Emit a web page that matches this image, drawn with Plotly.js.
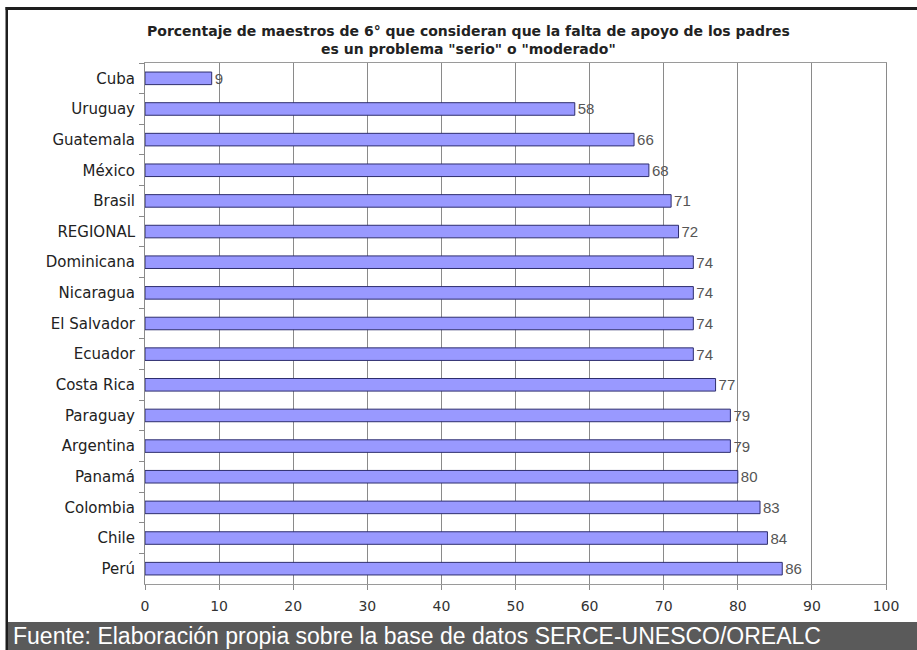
<!DOCTYPE html>
<html>
<head>
<meta charset="utf-8">
<script src="https://cdn.plot.ly/plotly-3.0.1.min.js"></script>
<style>
  html, body { margin: 0; padding: 0; background: #ffffff; }
  #chart { width: 917px; height: 650px; }
</style>
</head>
<body>
<div id="chart"></div>
<script>
// Share of 6th-grade teachers who see lack of parental support as a "serious" or "moderate" problem
const countries = [
  'Cuba', 'Uruguay', 'Guatemala', 'México', 'Brasil', 'REGIONAL', 'Dominicana',
  'Nicaragua', 'El Salvador', 'Ecuador', 'Costa Rica', 'Paraguay', 'Argentina',
  'Panamá', 'Colombia', 'Chile', 'Perú'
];
const percentages = [9, 58, 66, 68, 71, 72, 74, 74, 74, 74, 77, 79, 79, 80, 83, 84, 86];
const xTicks = [0, 10, 20, 30, 40, 50, 60, 70, 80, 90, 100];

const chartTitle = 'Porcentaje de maestros de 6° que consideran que la falta de apoyo de los padres<br>es un problema "serio" o "moderado"';
const sourceNote = 'Fuente: Elaboración propia sobre la base de datos SERCE-UNESCO/OREALC';

const W = 917, H = 650;
const px = v => v / W;          // horizontal pixel -> paper
const py = v => 1 - v / H;      // vertical pixel (from top) -> paper

const labelFont = '"DejaVu Sans", Arial, sans-serif';

const trace = {
  type: 'bar',
  orientation: 'h',
  y: countries,
  x: percentages,
  text: percentages.map(String),
  textposition: 'outside',
  constraintext: 'none',
  cliponaxis: false,
  textfont: { family: '"Liberation Sans Narrow", "Arial Narrow", Arial, sans-serif', size: 15, color: '#555555' },
  marker: { color: '#9999ff', line: { color: '#2e2e6e', width: 1 } },
  hoverinfo: 'skip'
};

const layout = {
  width: W,
  height: H,
  margin: { l: 0, r: 0, t: 0, b: 0 },
  paper_bgcolor: '#ffffff',
  plot_bgcolor: '#ffffff',
  showlegend: false,
  bargap: 0.59,
  font: { family: labelFont, color: '#222222' },
  xaxis: {
    domain: [px(145), px(886)],
    range: [0, 100],
    tickvals: xTicks,
    ticktext: xTicks.map(String),
    showgrid: true,
    gridcolor: '#8a8a8a',
    gridwidth: 1,
    zeroline: false,
    showline: true,
    linecolor: '#9a9a9a',
    linewidth: 1,
    mirror: true,
    ticks: 'outside',
    ticklen: 5,
    tickcolor: '#8a8a8a',
    ticklabelstandoff: 4,
    tickfont: { family: labelFont, size: 14, color: '#333333' },
    fixedrange: true
  },
  yaxis: {
    domain: [py(584), py(63)],
    type: 'category',
    autorange: 'reversed',
    showgrid: false,
    zeroline: false,
    showline: true,
    linecolor: '#8a8a8a',
    linewidth: 1,
    mirror: true,
    ticks: 'outside',
    tickson: 'boundaries',
    ticklen: 5,
    tickcolor: '#8a8a8a',
    ticklabelstandoff: 6,
    tickfont: { family: labelFont, size: 15, color: '#222222' },
    fixedrange: true
  },
  annotations: [
    {
      text: chartTitle,
      xref: 'paper', yref: 'paper',
      x: px(469), y: py(40),
      xanchor: 'center', yanchor: 'middle',
      showarrow: false,
      align: 'center',
      font: { size: 14, color: '#222222', family: labelFont, weight: 'bold' }
    },
    {
      text: sourceNote,
      xref: 'paper', yref: 'paper',
      x: px(11), y: py(636),
      xanchor: 'left', yanchor: 'middle',
      showarrow: false,
      font: { size: 23, color: '#ffffff', family: 'Arial, "Liberation Sans", sans-serif' }
    }
  ],
  shapes: [
    // footer band
    { type: 'rect', xref: 'paper', yref: 'paper', layer: 'below',
      x0: px(7), x1: 1, y0: 0, y1: py(622),
      fillcolor: '#5a5a5a', line: { width: 0 } },
    // top frame rule
    { type: 'rect', xref: 'paper', yref: 'paper',
      x0: px(5.5), x1: 1, y0: py(10), y1: py(7),
      fillcolor: '#1e1e1e', line: { width: 0 } },
    // left frame rule
    { type: 'rect', xref: 'paper', yref: 'paper',
      x0: px(5.5), x1: px(8), y0: 0, y1: py(7),
      fillcolor: '#1e1e1e', line: { width: 0 } }
  ]
};

Plotly.newPlot('chart', [trace], layout, { displayModeBar: false, staticPlot: true });
</script>
</body>
</html>
